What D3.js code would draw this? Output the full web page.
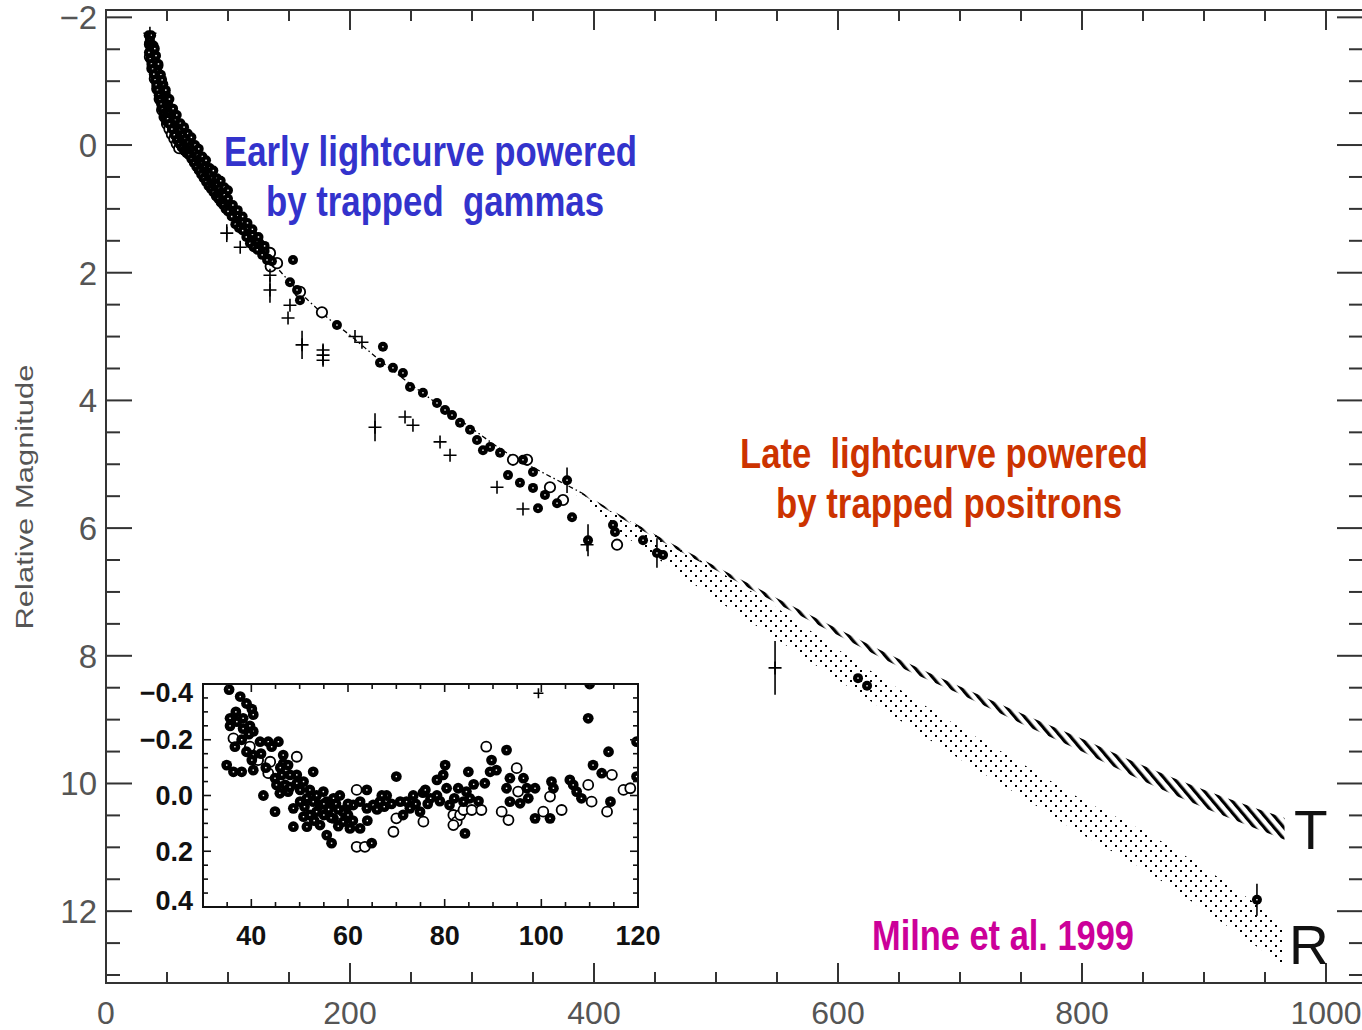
<!DOCTYPE html>
<html>
<head>
<meta charset="utf-8">
<script src="https://cdn.jsdelivr.net/npm/d3@7"></script>
<style>
  html, body { margin: 0; padding: 0; background: #fff; }
  svg { display: block; }
  .pre { white-space: pre; }
</style>
</head>
<body>
<script>
// ---------- data ----------
// main-axis ticks
const xTickValues = [0, 200, 400, 600, 800, 1000];
const yTickValues = [-2, 0, 2, 4, 6, 8, 10, 12];
// inset ticks
const insetXTickValues = [40, 60, 80, 100, 120];
const insetYTickValues = [-0.4, -0.2, 0.0, 0.2, 0.4];

// model light curve (dash-dot) before the two late-time bands split
const modelDays = [35, 40, 47, 55, 63, 70, 80, 90, 100, 110, 120, 135, 150, 165, 180, 200, 225, 250, 275, 300, 325, 350, 375, 390];
const modelMags = [-1.75, -1.28, -0.75, -0.34, -0.07, 0.08, 0.38, 0.65, 0.9, 1.15, 1.4, 1.8, 2.13, 2.42, 2.68, 2.98, 3.38, 3.75, 4.1, 4.44, 4.78, 5.05, 5.3, 5.45];

// T band (hatched)
const tBandDays   = [390, 420, 450, 500, 550, 600, 650, 700, 750, 800, 850, 900, 966];
const tBandTop    = [5.44, 5.78, 6.10, 6.60, 7.10, 7.58, 8.05, 8.48, 8.90, 9.30, 9.72, 10.10, 10.54];
const tBandBottom = [5.47, 5.82, 6.15, 6.66, 7.18, 7.68, 8.17, 8.60, 9.06, 9.50, 9.96, 10.38, 10.88];

// R band (dotted)
const rBandDays   = [385, 420, 450, 500, 550, 600, 650, 700, 750, 800, 850, 900, 966];
const rBandTop    = [5.42, 5.80, 6.10, 6.65, 7.25, 7.90, 8.52, 9.12, 9.68, 10.25, 10.74, 11.32, 12.22];
const rBandBottom = [5.47, 6.05, 6.45, 7.12, 7.74, 8.38, 9.00, 9.62, 10.20, 10.80, 11.34, 11.98, 12.86];

// filled-circle photometry
const filledDays = [35, 35.5, 36, 36.5, 37, 37.5, 38, 38.5, 39, 39.5, 40, 40.5, 41, 41.5, 42, 42.5, 43, 44, 44.5, 45, 46, 46.5, 47, 48, 48.5, 49, 50, 51, 52, 53, 54, 55, 56, 57, 58, 59, 60, 61, 62, 63, 64, 65, 66, 67, 68, 69, 70, 71, 72, 73, 74, 75, 76, 77, 78, 79, 80, 81, 82, 83, 84, 85, 86, 87, 88, 89, 90, 91, 92, 93, 94, 95, 96, 98, 99, 100, 102, 104, 106, 108, 110, 112, 114, 116, 118, 120, 122, 124, 127, 130, 133, 136,
  35.2, 36.2, 37.2, 38.2, 39.2, 40.2, 41.2, 42.2, 43.2, 44.2, 45.2, 46.2, 47.2, 48.2, 49.2, 50.5, 52, 54, 56, 58, 60, 62, 64, 66, 68, 70, 72, 74, 76, 78, 80, 82, 84, 86, 88, 90, 92, 94, 96, 98, 100, 103, 106, 109, 112, 115, 118, 121, 124, 128,
  37, 39, 41, 43, 45, 47, 49, 51, 53, 55, 57, 59, 61, 63, 65, 67, 69, 71, 73, 75, 77, 79, 81, 83, 85, 87, 89, 91, 93, 95, 97, 100, 104, 108, 112, 116, 120, 125, 130,
  40, 43, 46, 49, 52, 55, 58, 61, 64, 67, 70, 73, 76, 79, 82, 85, 88, 91, 94, 97, 100,
  132.0, 153.3, 150.8, 156.6, 159.0, 189.3, 227.0, 224.6, 235.2, 243.4, 249.2, 259.8, 271.3, 277.9, 283.6, 290.2, 298.4, 304.1, 309.0, 314.8, 323.0, 341.8, 329.5, 339.3, 350.0, 350.0, 354.1, 359.8, 369.7, 377.9, 382.0, 395.1, 415.6, 417.2, 440.2, 451.6, 456.6, 616.4, 623.8, 943.4];
const filledMags = [-1.72, -1.6, -1.66, -1.5, -1.56, -1.42, -1.48, -1.34, -1.4, -1.26, -1.32, -1.18, -1.24, -1.1, -1.16, -1.02, -1.08, -0.98, -0.9, -0.94, -0.84, -0.76, -0.8, -0.7, -0.62, -0.66, -0.58, -0.5, -0.52, -0.42, -0.44, -0.34, -0.36, -0.26, -0.28, -0.18, -0.2, -0.1, -0.14, -0.04, -0.08, 0.0, -0.04, 0.06, 0.02, 0.12, 0.08, 0.18, 0.14, 0.24, 0.2, 0.3, 0.26, 0.36, 0.32, 0.42, 0.38, 0.48, 0.44, 0.54, 0.5, 0.6, 0.55, 0.65, 0.6, 0.7, 0.66, 0.76, 0.7, 0.8, 0.76, 0.86, 0.8, 0.86, 0.96, 0.9, 1.02, 1.0, 1.1, 1.1, 1.2, 1.2, 1.3, 1.3, 1.4, 1.4, 1.5, 1.5, 1.58, 1.66, 1.78, 1.82,
  -1.45, -1.35, -1.27, -1.19, -1.11, -1.02, -0.94, -0.86, -0.78, -0.71, -0.64, -0.56, -0.49, -0.43, -0.37, -0.41, -0.33, -0.25, -0.16, -0.08, -0.02, 0.04, 0.09, 0.13, 0.16, 0.22, 0.28, 0.34, 0.4, 0.46, 0.52, 0.58, 0.64, 0.69, 0.74, 0.8, 0.84, 0.9, 0.94, 1.0, 1.04, 1.12, 1.24, 1.3, 1.34, 1.44, 1.54, 1.6, 1.64, 1.72,
  -1.72, -1.56, -1.4, -1.24, -1.1, -0.95, -0.8, -0.68, -0.58, -0.48, -0.4, -0.3, -0.24, -0.16, -0.1, -0.04, 0.02, 0.06, 0.1, 0.16, 0.22, 0.28, 0.34, 0.4, 0.46, 0.52, 0.58, 0.62, 0.68, 0.74, 0.78, 0.84, 0.94, 1.02, 1.12, 1.22, 1.32, 1.44, 1.58,
  -1.51, -1.27, -1.02, -0.86, -0.72, -0.57, -0.47, -0.34, -0.28, -0.18, -0.12, 0.0, 0.06, 0.18, 0.24, 0.36, 0.4, 0.52, 0.56, 0.66, 0.71,
  1.80, 1.80, 2.15, 2.27, 2.43, 2.82, 3.16, 3.41, 3.49, 3.57, 3.79, 3.88, 4.04, 4.15, 4.23, 4.35, 4.46, 4.62, 4.78, 4.73, 4.82, 4.93, 5.17, 5.29, 5.12, 5.37, 5.69, 5.48, 5.61, 5.25, 5.83, 6.19, 5.95, 6.06, 6.19, 6.39, 6.42, 8.35, 8.47, 11.82];

// open-circle photometry
const openDays = [36, 38, 40, 42, 44, 46, 48, 50, 53, 56, 59, 62, 65, 68, 71, 74, 77, 80, 83, 86, 89, 92, 95, 97, 101, 105, 109, 113, 117, 121, 125, 131, 135,
  36, 38, 40, 42, 44, 46, 48, 50, 52, 54, 56, 58, 60,
  134.4, 140.2, 159.0, 177.0, 333.6, 345.1, 363.9, 374.6, 418.9];
const openMags = [-1.58, -1.42, -1.26, -1.1, -0.94, -0.8, -0.66, -0.54, -0.4, -0.3, -0.2, -0.08, -0.02, 0.08, 0.14, 0.24, 0.3, 0.42, 0.48, 0.6, 0.64, 0.74, 0.8, 0.9, 0.96, 1.06, 1.14, 1.26, 1.34, 1.44, 1.54, 1.7, 1.9,
  -1.38, -1.2, -1.04, -0.88, -0.72, -0.55, -0.44, -0.33, -0.25, -0.17, -0.1, -0.02, 0.05,
  1.69, 1.85, 2.30, 2.62, 4.93, 4.93, 5.36, 5.56, 6.26];

// cross photometry
const crossDays = [36, 99, 110, 134.4, 134.4, 150.8, 149.2, 160.7, 177.9, 177.9, 177.9, 204.1, 209.8, 220.5, 245.1, 251.6, 273.8, 282.0, 320.5, 341.8, 394.3, 548.4];
const crossMags = [-1.75, 1.38, 1.6, 2.04, 2.27, 2.51, 2.71, 3.13, 3.21, 3.29, 3.37, 3.0, 3.09, 4.42, 4.26, 4.39, 4.65, 4.86, 5.36, 5.70, 6.26, 8.19];

// vertical error bars (half-length in magnitudes)
const errDays = [99, 134.4, 160.7, 177.9, 220.5, 377.9, 395.1, 451.6, 548.4, 943.4];
const errMags = [1.38, 2.27, 3.13, 3.29, 4.42, 5.25, 6.19, 6.39, 8.19, 11.82];
const errHalf = [0.14, 0.20, 0.22, 0.16, 0.22, 0.20, 0.25, 0.23, 0.42, 0.25];

// inset: residuals from the model, days 30-120
const insetFilledDays = [35.4, 37.7, 39.0, 40.1, 40.4, 35.6, 35.6, 37.0, 38.3, 38.3, 39.7, 40.4, 38.0, 36.6, 39.0, 40.4, 41.8, 43.5, 45.6, 44.2, 34.9, 36.3, 38.0, 40.4, 40.1, 46.6, 46.6, 47.6, 52.8, 44.9, 46.3, 48.0, 49.4, 45.2, 47.0, 49.4, 50.8, 45.9, 47.6, 50.1, 52.1, 42.5, 44.9, 48.7, 50.1, 51.5, 53.5, 54.9, 52.8, 54.2, 55.6, 57.0, 58.3, 50.8, 52.1, 53.5, 48.7, 51.5, 54.2, 55.6, 56.6, 57.0, 59.0, 60.4, 62.5, 59.7, 61.1, 62.5, 63.9, 65.2, 66.6, 63.9, 64.9, 68.0, 70.0, 71.4, 72.1, 73.5, 70.8, 72.8, 74.9, 77.1, 78.4, 78.4, 79.7, 80.1, 80.4, 81.0, 82.8, 83.9, 84.5, 84.9, 85.2, 84.2, 88.3, 89.4, 89.7, 90.7, 92.8, 92.8, 93.5, 93.5, 95.6, 96.3, 97.0, 97.3, 98.7, 98.7, 101.8, 102.1, 102.5, 105.9, 106.6, 107.3, 108.3, 109.7, 110.7, 112.5, 113.9, 114.3, 119.7, 119.7, 110.0,
  56.0, 57.5, 59.0, 60.0, 55.0, 58.0, 61.0, 66.0, 67.5, 69.0, 75.5, 76.5, 79.0, 82.0, 86.0, 87.0,
  36.8, 39.5, 42.0, 43.0, 46.0, 48.0, 51.0, 53.0, 55.0, 56.5, 58.0, 60.0, 64.0, 67.0, 74.0, 76.0];
const insetFilledRes = [-0.38, -0.355, -0.33, -0.31, -0.29, -0.277, -0.25, -0.265, -0.277, -0.24, -0.25, -0.23, -0.2, -0.175, -0.157, -0.145, -0.193, -0.193, -0.193, -0.175, -0.109, -0.085, -0.085, -0.091, -0.127, -0.145, -0.115, -0.109, -0.085, -0.062, -0.074, -0.074, -0.074, -0.038, -0.038, -0.044, -0.05, -0.008, -0.014, -0.02, -0.02, 0.0, 0.058, 0.046, 0.022, 0.01, 0.0, -0.014, 0.022, 0.034, 0.022, 0.01, 0.0, 0.076, 0.07, 0.058, 0.112, 0.112, 0.106, 0.142, 0.171, 0.082, 0.094, 0.118, 0.118, 0.046, 0.034, 0.022, 0.046, 0.034, 0.022, -0.02, 0.171, 0.0, -0.068, 0.07, 0.022, 0.0, 0.022, 0.046, 0.058, 0.01, 0.0, -0.056, -0.074, -0.109, -0.026, 0.034, -0.026, 0.022, -0.014, -0.085, 0.01, 0.136, -0.044, -0.085, -0.127, -0.091, -0.163, -0.026, -0.062, 0.022, 0.028, -0.062, -0.026, 0.01, -0.026, 0.082, 0.082, -0.05, -0.026, -0.056, -0.038, -0.014, 0.01, -0.277, -0.109, -0.08, -0.157, 0.022, -0.068, -0.193, -0.4,
  0.05, 0.03, 0.06, 0.03, 0.07, 0.11, 0.09, 0.05, 0.04, 0.03, -0.01, 0.03, 0.02, 0.01, -0.04, 0.02,
  -0.3, -0.22, -0.15, -0.1, -0.1, -0.03, 0.04, 0.09, 0.03, 0.08, 0.05, 0.07, 0.09, 0.0, 0.03, -0.02];
const insetOpenDays = [36.3, 39.7, 41.4, 49.4, 43.9, 43.5, 61.8, 61.8, 63.5, 69.4, 70.0, 75.6, 81.8, 82.5, 81.8, 83.2, 83.9, 85.6, 87.6, 88.6, 91.8, 93.2, 94.9, 95.2, 100.4, 101.8, 104.2, 109.7, 110.4, 114.6, 113.6, 117.0, 118.4];
const insetOpenRes = [-0.205, -0.175, -0.127, -0.139, -0.121, -0.08, -0.02, 0.184, 0.184, 0.13, 0.082, 0.094, 0.07, 0.094, 0.106, 0.07, 0.052, 0.052, 0.052, -0.175, 0.058, 0.088, -0.098, -0.014, 0.058, 0.004, 0.052, -0.038, 0.022, -0.074, 0.058, -0.02, -0.026];
const insetCrossDays = [99.4];
const insetCrossRes = [-0.367];

// ---------- layout ----------
const W = 1362, H = 1030;
const P = { left: 106, right: 1363, top: 10, bottom: 983 };
const I = { left: 203, right: 638, top: 684, bottom: 907 };

const svg = d3.select('body').append('svg').attr('width', W).attr('height', H);
svg.append('rect').attr('width', W).attr('height', H).attr('fill', '#fff');

const x = d3.scaleLinear().domain([0, 1030]).range([P.left, P.left + 1.22 * 1030]);
const y = d3.scaleLinear().domain([-2.115, 13.125]).range([P.top, P.bottom]);
const ix = d3.scaleLinear().domain([30, 120]).range([I.left, I.right]);
const iy = d3.scaleLinear().domain([-0.4, 0.4]).range([I.top, I.bottom]);

const defs = svg.append('defs');
defs.append('clipPath').attr('id', 'clipMain').append('rect')
  .attr('x', P.left).attr('y', P.top).attr('width', P.right - P.left).attr('height', P.bottom - P.top);
defs.append('clipPath').attr('id', 'clipInset').append('rect')
  .attr('x', I.left).attr('y', I.top).attr('width', I.right - I.left).attr('height', I.bottom - I.top);

// diagonal hatching for the T band
const hatch = defs.append('pattern').attr('id', 'hatch')
  .attr('patternUnits', 'userSpaceOnUse').attr('width', 7.5).attr('height', 20)
  .attr('patternTransform', 'rotate(-40)');
hatch.append('rect').attr('x', 0).attr('y', 0).attr('width', 3.2).attr('height', 20).attr('fill', '#000');

// staggered dot screen for the R band
const dots = defs.append('pattern').attr('id', 'dots')
  .attr('patternUnits', 'userSpaceOnUse').attr('width', 10).attr('height', 10);
dots.append('rect').attr('x', 0).attr('y', 0).attr('width', 2).attr('height', 2).attr('fill', '#000');
dots.append('rect').attr('x', 5).attr('y', 5).attr('width', 2).attr('height', 2).attr('fill', '#000');

const tickFont = "'Liberation Sans Narrow', 'Liberation Sans', sans-serif";
const boldNarrow = "'Liberation Sans Narrow', 'Liberation Sans', Arial, sans-serif";

// ---------- main plot ----------
const main = svg.append('g').attr('clip-path', 'url(#clipMain)');

const bandArea = (days, top, bot) => d3.area()
  .x((d, i) => x(days[i]))
  .y0((d, i) => y(top[i]))
  .y1((d, i) => y(bot[i]))
  .curve(d3.curveMonotoneX)(days);

main.append('path').attr('d', bandArea(rBandDays, rBandTop, rBandBottom)).attr('fill', 'url(#dots)');
main.append('path').attr('d', bandArea(tBandDays, tBandTop, tBandBottom)).attr('fill', 'url(#hatch)');

main.append('path')
  .attr('d', d3.line().x((d, i) => x(modelDays[i])).y((d, i) => y(modelMags[i])).curve(d3.curveMonotoneX)(modelDays))
  .attr('fill', 'none').attr('stroke', '#000').attr('stroke-width', 1.3)
  .attr('stroke-dasharray', '5,3,1.5,3');

// error bars
main.selectAll('line.err').data(errDays).join('line').attr('class', 'err')
  .attr('x1', (d) => x(d)).attr('x2', (d) => x(d))
  .attr('y1', (d, i) => y(errMags[i] - errHalf[i]))
  .attr('y2', (d, i) => y(errMags[i] + errHalf[i]))
  .attr('stroke', '#000').attr('stroke-width', 1.6);

function drawOpen(g, days, vals, sx, sy, r) {
  g.selectAll(null).data(days).join('circle')
    .attr('cx', (d) => sx(d)).attr('cy', (d, i) => sy(vals[i])).attr('r', r)
    .attr('fill', '#fff').attr('stroke', '#000').attr('stroke-width', 1.8);
}
function drawFilled(g, days, vals, sx, sy, r) {
  const s = g.selectAll(null).data(days).join('g')
    .attr('transform', (d, i) => `translate(${sx(d)},${sy(vals[i])})`);
  s.append('circle').attr('r', r).attr('fill', '#000');
  s.append('rect').attr('x', -0.7).attr('y', -0.7).attr('width', 1.4).attr('height', 1.4).attr('fill', '#fff');
}
function drawCross(g, days, vals, sx, sy, a) {
  g.selectAll(null).data(days).join('path')
    .attr('d', (d, i) => {
      const cx = sx(d), cy = sy(vals[i]);
      return `M${cx - a},${cy}H${cx + a}M${cx},${cy - a}V${cy + a}`;
    })
    .attr('stroke', '#000').attr('stroke-width', 1.6).attr('fill', 'none');
}

drawOpen(main, openDays, openMags, x, y, 5.2);
drawFilled(main, filledDays, filledMags, x, y, 5);
drawCross(main, crossDays, crossMags, x, y, 6.5);

// ---------- main axes ----------
const axes = svg.append('g');
axes.append('rect').attr('x', P.left).attr('y', P.top)
  .attr('width', P.right - P.left).attr('height', P.bottom - P.top)
  .attr('fill', 'none').attr('stroke', '#333').attr('stroke-width', 2);

const xMinor = d3.range(0, 1031, 50).filter((v) => !xTickValues.includes(v));
const yMinor = d3.range(-2, 13.01, 0.5).filter((v) => !yTickValues.includes(v));

function ticks(g, vals, fn, len) {
  g.selectAll(null).data(vals).join('path').attr('d', (d) => fn(d, len))
    .attr('stroke', '#333').attr('stroke-width', 2).attr('fill', 'none');
}
ticks(axes, xTickValues, (d, l) => `M${x(d)},${P.bottom}v${-l}`, 20);
ticks(axes, xMinor, (d, l) => `M${x(d)},${P.bottom}v${-l}`, 11);
ticks(axes, xTickValues, (d, l) => `M${x(d)},${P.top}v${l}`, 20);
ticks(axes, xMinor, (d, l) => `M${x(d)},${P.top}v${l}`, 11);
ticks(axes, yTickValues, (d, l) => `M${P.left},${y(d)}h${l}`, 26);
ticks(axes, yMinor, (d, l) => `M${P.left},${y(d)}h${l}`, 14);
ticks(axes, yTickValues, (d, l) => `M${P.right},${y(d)}h${-l}`, 26);
ticks(axes, yMinor, (d, l) => `M${P.right},${y(d)}h${-l}`, 14);

const fmtInt = d3.format('d');
axes.selectAll(null).data(xTickValues).join('text')
  .attr('x', (d) => x(d)).attr('y', 1024)
  .attr('text-anchor', 'middle').attr('font-family', tickFont).attr('font-size', 32)
  .attr('fill', '#555').text((d) => fmtInt(d));
axes.selectAll(null).data(yTickValues).join('text')
  .attr('x', 97).attr('y', (d) => y(d)).attr('dy', '0.36em')
  .attr('text-anchor', 'end').attr('font-family', tickFont).attr('font-size', 33)
  .attr('fill', '#555').text((d) => fmtInt(d));

svg.append('text')
  .attr('transform', 'translate(33,497) rotate(-90)')
  .attr('text-anchor', 'middle').attr('font-family', "'Liberation Sans', sans-serif")
  .attr('font-size', 23).attr('fill', '#555')
  .attr('textLength', 265).attr('lengthAdjust', 'spacingAndGlyphs')
  .text('Relative Magnitude');

// ---------- annotations ----------
function label(txt, xPos, yPos, len, color) {
  svg.append('text').attr('class', 'pre')
    .attr('x', xPos).attr('y', yPos)
    .attr('font-family', boldNarrow).attr('font-weight', 'bold').attr('font-size', 42)
    .attr('fill', color)
    .attr('textLength', len).attr('lengthAdjust', 'spacingAndGlyphs')
    .text(txt);
}
label('Early lightcurve powered', 224, 166, 413, '#3333cc');
label('by trapped  gammas', 266, 216, 338, '#3333cc');
label('Late  lightcurve powered', 740, 468, 408, '#cc3300');
label('by trapped positrons', 776, 518, 346, '#cc3300');
label('Milne et al. 1999', 872, 950, 262, '#cc0099');

svg.append('text').attr('x', 1294).attr('y', 849)
  .attr('font-family', tickFont).attr('font-size', 55).attr('fill', '#111').text('T');
svg.append('text').attr('x', 1289).attr('y', 964)
  .attr('font-family', tickFont).attr('font-size', 55).attr('fill', '#111').text('R');

// ---------- inset ----------
const inset = svg.append('g');
inset.append('rect').attr('x', I.left).attr('y', I.top)
  .attr('width', I.right - I.left).attr('height', I.bottom - I.top).attr('fill', '#fff');

const insetPts = inset.append('g').attr('clip-path', 'url(#clipInset)');
drawOpen(insetPts, insetOpenDays, insetOpenRes, ix, iy, 5);
drawFilled(insetPts, insetFilledDays, insetFilledRes, ix, iy, 5.4);
drawCross(insetPts, insetCrossDays, insetCrossRes, ix, iy, 5);

inset.append('rect').attr('x', I.left).attr('y', I.top)
  .attr('width', I.right - I.left).attr('height', I.bottom - I.top)
  .attr('fill', 'none').attr('stroke', '#111').attr('stroke-width', 2);

const ixMinor = d3.range(35, 120, 5).filter((v) => !insetXTickValues.includes(v));
const iyMinor = d3.range(-0.35, 0.36, 0.05).filter((v) => !insetYTickValues.some((t) => Math.abs(t - v) < 1e-6));
function iticks(vals, fn, len) {
  inset.selectAll(null).data(vals).join('path').attr('d', (d) => fn(d, len))
    .attr('stroke', '#111').attr('stroke-width', 1.6).attr('fill', 'none');
}
iticks(insetXTickValues, (d, l) => `M${ix(d)},${I.bottom}v${-l}`, 8);
iticks(ixMinor, (d, l) => `M${ix(d)},${I.bottom}v${-l}`, 5);
iticks(insetXTickValues, (d, l) => `M${ix(d)},${I.top}v${l}`, 8);
iticks(ixMinor, (d, l) => `M${ix(d)},${I.top}v${l}`, 5);
iticks(insetYTickValues, (d, l) => `M${I.left},${iy(d)}h${l}`, 8);
iticks(iyMinor, (d, l) => `M${I.left},${iy(d)}h${l}`, 5);
iticks(insetYTickValues, (d, l) => `M${I.right},${iy(d)}h${-l}`, 8);
iticks(iyMinor, (d, l) => `M${I.right},${iy(d)}h${-l}`, 5);

const fmt1 = d3.format('.1f');
inset.selectAll(null).data(insetXTickValues).join('text')
  .attr('x', (d) => ix(d)).attr('y', 945)
  .attr('text-anchor', 'middle').attr('font-family', "'Liberation Sans', Arial, sans-serif")
  .attr('font-weight', 'bold').attr('font-size', 27).attr('fill', '#111')
  .text((d) => fmtInt(d));
inset.selectAll(null).data(insetYTickValues).join('text')
  .attr('x', 193)
  .attr('y', (d) => Math.min(Math.max(iy(d), I.top + 8), I.bottom - 7))
  .attr('dy', '0.36em')
  .attr('text-anchor', 'end').attr('font-family', "'Liberation Sans', Arial, sans-serif")
  .attr('font-weight', 'bold').attr('font-size', 27).attr('fill', '#111')
  .text((d) => fmt1(d));
</script>
</body>
</html>
